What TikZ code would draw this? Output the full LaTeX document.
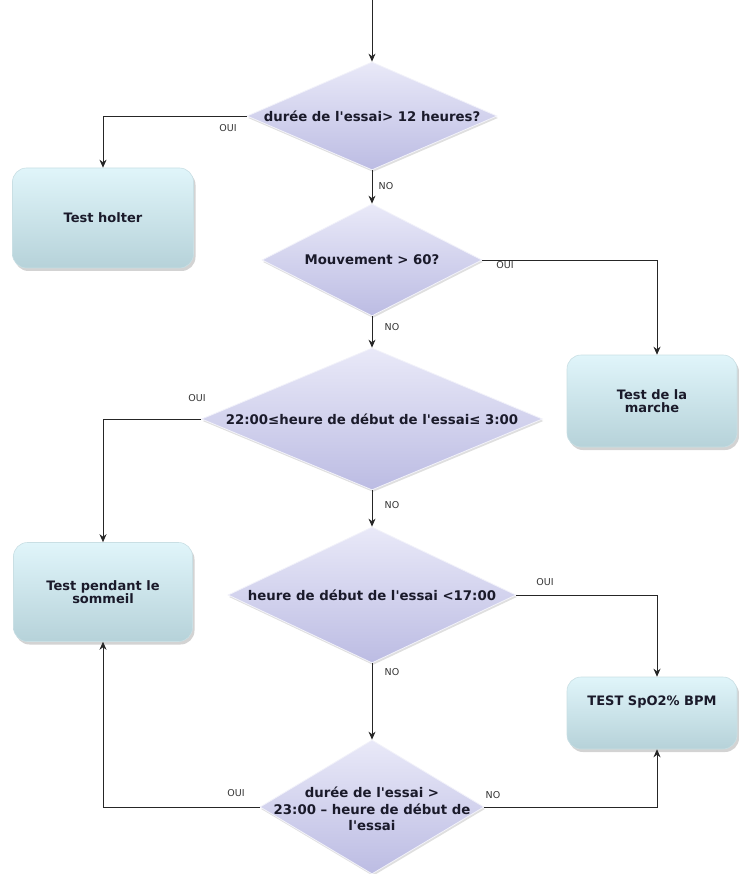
\documentclass[tikz,border=0pt]{standalone}
\usepackage{fontspec}
\setmainfont{DejaVu Sans}[Ligatures=TeXOff]
\usetikzlibrary{shapes.geometric,shadows,arrows.meta}

\definecolor{dmtop}{HTML}{E9E9F8}
\definecolor{dmmid}{HTML}{CDCDEE}
\definecolor{dmbot}{HTML}{BCBCE3}
\definecolor{dmedge}{HTML}{F2F2FA}
\definecolor{bxtop}{HTML}{E0F5FA}
\definecolor{bxbot}{HTML}{B6D2D9}
\definecolor{bxedge}{HTML}{C9DFE4}
\definecolor{ink}{HTML}{1A1A2A}

\tikzset{
  decision/.style={diamond, draw=dmedge, line width=0.8pt,
    top color=dmtop, middle color=dmmid, bottom color=dmbot,
    inner sep=0pt,
    drop shadow={opacity=0.25, shadow xshift=1pt, shadow yshift=-2pt}},
  dtext/.style={font=\fontsize{13.3}{16.5}\selectfont\bfseries, text=ink, align=center},
  btext/.style={font=\fontsize{13}{12.5}\selectfont\bfseries, text=ink, align=center},
  outcome/.style={rectangle, rounded corners=14pt, draw=bxedge, line width=0.6pt,
    top color=bxtop, bottom color=bxbot, inner sep=0pt,
    drop shadow={opacity=0.35, shadow xshift=2pt, shadow yshift=-3pt},
    btext},
  flow/.style={draw=black!85, line width=0.8pt, -{Stealth[length=8pt,width=7pt]}},
  answer/.style={font=\fontsize{9.5}{11}\selectfont, text=black!80, inner sep=0pt}
}

\begin{document}
\begin{tikzpicture}[x=1pt,y=-1pt]
\useasboundingbox (0,0) rectangle (738,874);

% entry point
\coordinate (start) at (372,0);

% decisions
\node[decision, minimum width=250pt, minimum height=108pt,
      label={[dtext]center:durée de l'essai> 12 heures?}] (d1) at (372,116) {};
\node[decision, minimum width=220pt, minimum height=112pt,
      label={[dtext]center:Mouvement > 60?}] (d2) at (372,260) {};
\node[decision, minimum width=341pt, minimum height=142pt,
      label={[dtext]center:22:00≤heure de début de l'essai≤ 3:00}] (d3) at (372,419) {};
\node[decision, minimum width=288pt, minimum height=136pt,
      label={[dtext]center:heure de début de l'essai <17:00}] (d4) at (372,595) {};
\node[decision, minimum width=224pt, minimum height=134pt,
      label={[dtext, yshift=-2pt]center:durée de l'essai >\\23:00 – heure de début de\\l'essai}] (d5) at (372,807) {};

% outcomes
\node[outcome, minimum width=181pt, minimum height=100pt] (holter) at (103,218) {Test holter};
\node[outcome, minimum width=170pt, minimum height=92pt] (marche) at (652,401) {Test de la\\marche};
\node[outcome, minimum width=179pt, minimum height=99pt] (sommeil) at (103,592) {Test pendant le\\sommeil};
\node[outcome, minimum width=170pt, minimum height=72pt,
      label={[btext, yshift=11pt]center:TEST SpO2\% BPM}] (spo2) at (652,713) {};

% connectors
\draw[flow] (start) -- (d1.north);
\draw[flow] (d1.west) -| (holter.north);
\draw[flow] (d1.south) -- (d2.north);
\draw[flow] (d2.east) -| ([xshift=5pt]marche.north);
\draw[flow] (d2.south) -- (d3.north);
\draw[flow] (d3.west) -| (sommeil.north);
\draw[flow] (d3.south) -- (d4.north);
\draw[flow] (d4.east) -| ([xshift=5pt]spo2.north);
\draw[flow] (d4.south) -- (d5.north);
\draw[flow] (d5.west) -| (sommeil.south);
\draw[flow] (d5.east) -| ([xshift=5pt]spo2.south);

% answers
\node[answer] (a1) at (228,128) {OUI};
\node[answer] (n1) at (386,186) {NO};
\node[answer] (a2) at (505,265) {OUI};
\node[answer] (n2) at (392,327) {NO};
\node[answer] (a3) at (197,398) {OUI};
\node[answer] (n3) at (392,505) {NO};
\node[answer] (a4) at (545,582) {OUI};
\node[answer] (n4) at (392,672) {NO};
\node[answer] (a5) at (236,793) {OUI};
\node[answer] (n5) at (493,795) {NO};
\end{tikzpicture}
\end{document}
